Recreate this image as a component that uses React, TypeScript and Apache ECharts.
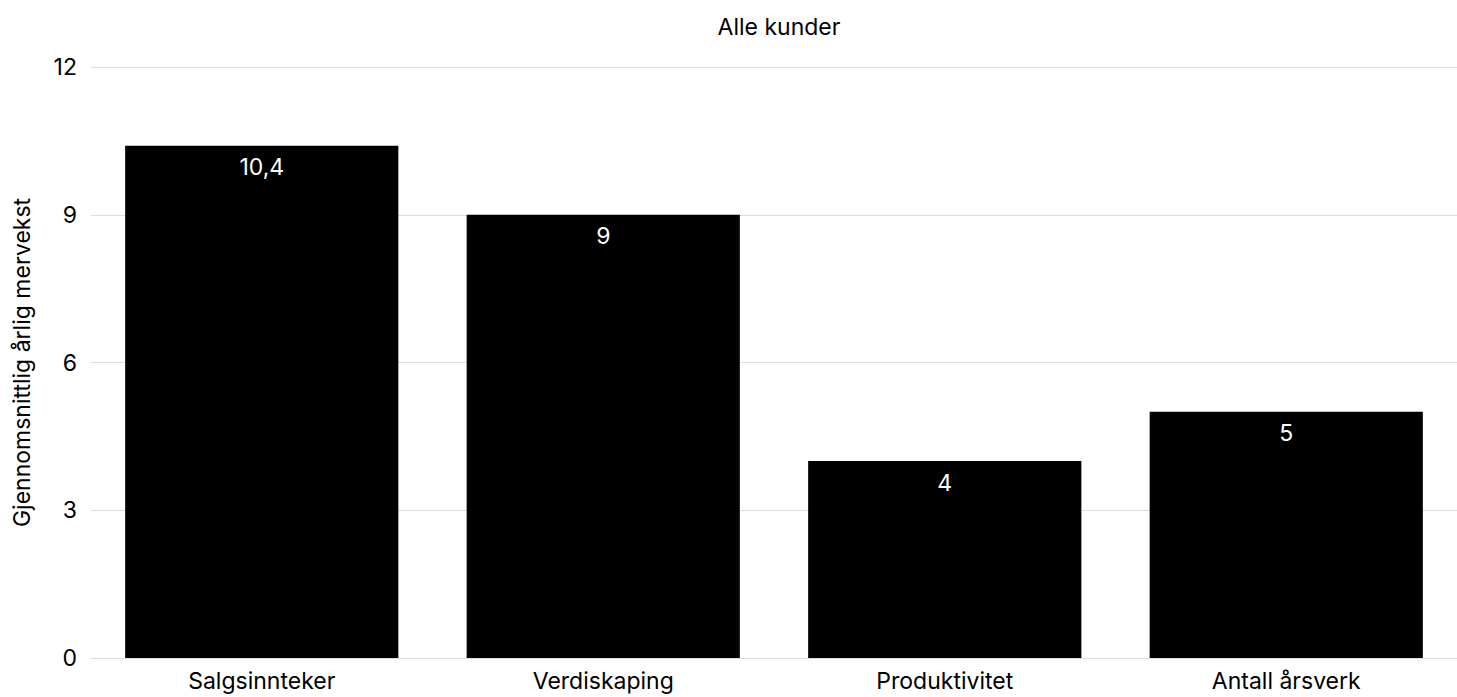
import React, { useEffect, useRef } from "react";
import * as echarts from "echarts";

const categories = ["Salgsinnteker", "Verdiskaping", "Produktivitet", "Antall årsverk"];
const values = [10.4, 9, 4, 5];
const titleText = "Alle kunder";
const yAxisName = "Gjennomsnittlig årlig mervekst";

const FONT = "Inter, 'Noto Sans', sans-serif";
const FS = 23;

export default function App() {
  const ref = useRef<HTMLDivElement>(null);
  useEffect(() => {
    if (!ref.current) return;
    const chart = echarts.init(ref.current, undefined, { renderer: "svg" });
    chart.setOption({
      animation: false,
      textStyle: { fontFamily: FONT },
      title: {
        text: titleText,
        left: 774,
        textAlign: "center",
        top: 10,
        textStyle: { fontSize: FS, fontWeight: "normal", color: "#000", fontFamily: FONT },
      },
      grid: { left: 91, right: 0, top: 67, bottom: 39, containLabel: false },
      xAxis: {
        type: "category",
        data: categories,
        axisLine: { show: true, lineStyle: { color: "#dcdcdc", width: 1 } },
        axisTick: { show: false },
        axisLabel: { fontSize: FS, color: "#000", margin: 11, fontFamily: FONT },
      },
      yAxis: {
        type: "value",
        min: 0,
        max: 12,
        interval: 3,
        name: yAxisName,
        nameLocation: "middle",
        nameGap: 58,
        nameTextStyle: { fontSize: FS, color: "#000", fontFamily: FONT },
        axisLine: { show: false },
        axisTick: { show: false },
        axisLabel: { fontSize: FS, color: "#000", margin: 14, fontFamily: FONT },
        splitLine: { lineStyle: { color: "#dcdcdc", width: 1 } },
      },
      series: [
        {
          type: "bar",
          data: values,
          barWidth: "80%",
          itemStyle: { color: "#000" },
          label: {
            show: true,
            position: "insideTop",
            distance: 10,
            color: "#fff",
            fontSize: FS,
            fontFamily: FONT,
            formatter: (p: any) => String(p.value).replace(".", ","),
          },
        },
      ],
    });
    return () => chart.dispose();
  }, []);
  return (
    <div
      ref={ref}
      style={{ position: "absolute", left: 0, top: 0, width: 1457, height: 697 }}
    />
  );
}
